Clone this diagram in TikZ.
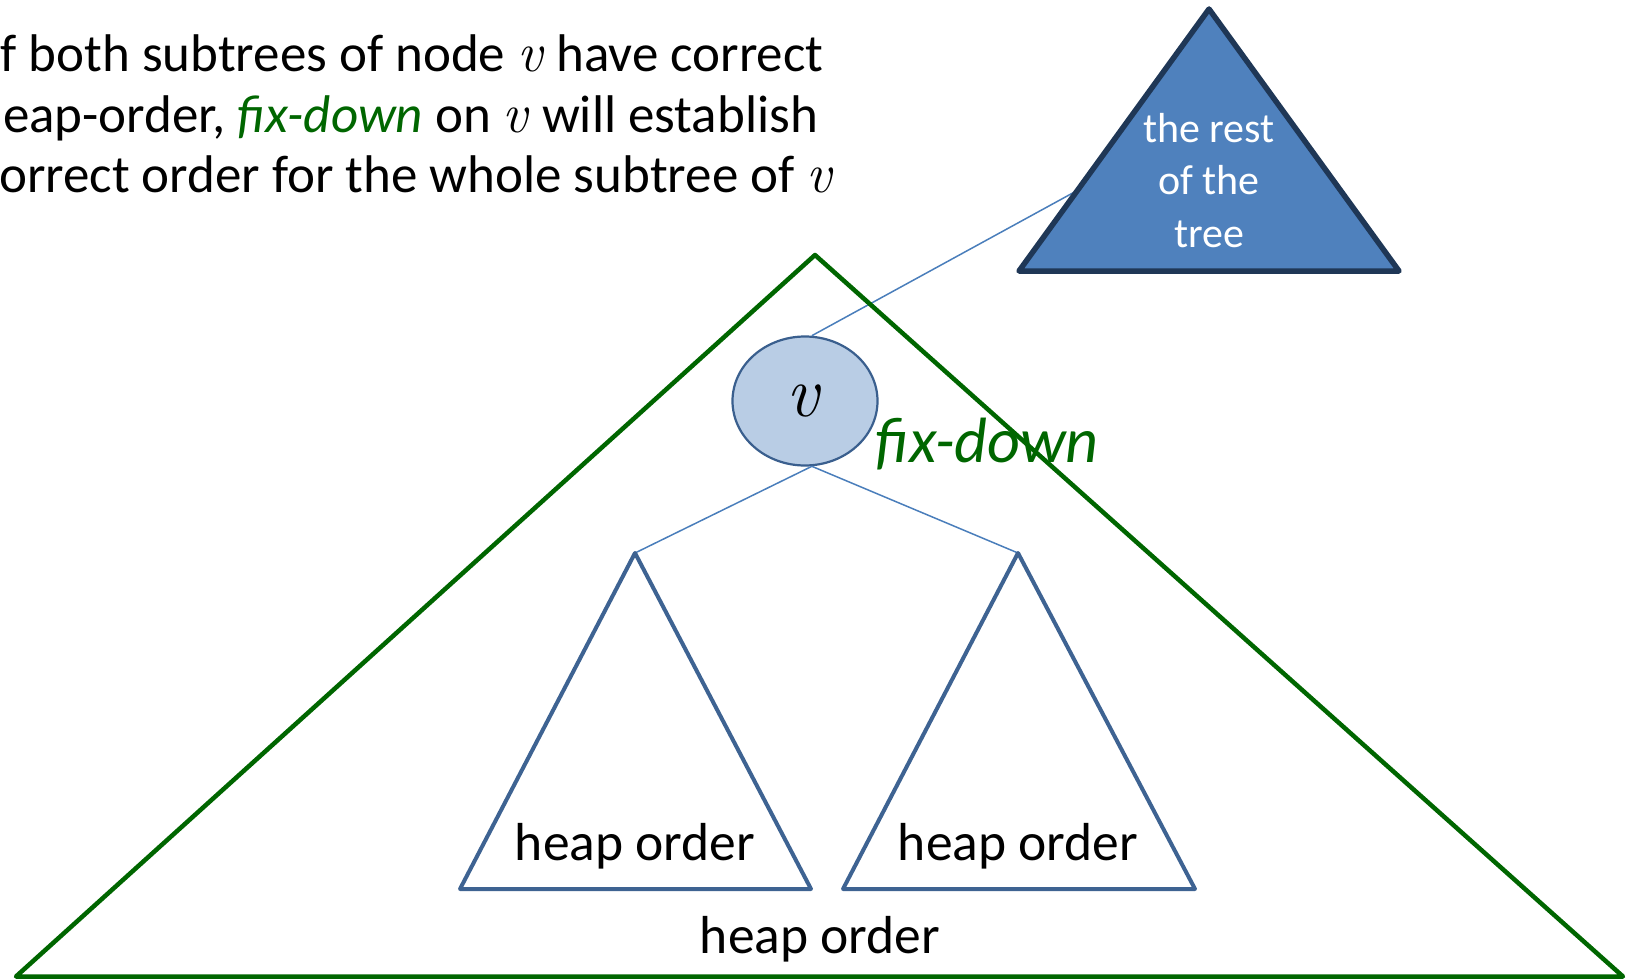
\documentclass[tikz,border=0pt]{standalone}
\usepackage{fontspec}
\setmainfont{Carlito}
\newfontfamily\vfont{Latin Modern Roman}
\usetikzlibrary{shapes.geometric}
\definecolor{hgreen}{RGB}{0,102,0}
\definecolor{restfill}{HTML}{4F81BD}
\definecolor{restdraw}{HTML}{1F3756}
\definecolor{subdraw}{HTML}{3E6392}
\definecolor{thinline}{HTML}{4A7EBB}
\definecolor{vfill}{HTML}{B9CDE5}
\definecolor{vdraw}{HTML}{3A5F8E}
\newcommand\myfs[2]{\fontsize{#1}{#2}\selectfont}
\newcommand\vv{{\vfont\itshape v\/}}
\newcommand\tv{{\myfs{56}{62}\vv}}
\begin{document}
\begin{tikzpicture}[x=1pt,y=-1pt,
  txt/.style={inner sep=0pt, anchor=base},
  txtl/.style={inner sep=0pt, anchor=base west, font=\myfs{53}{62}},
  bigtri/.style={draw=hgreen, line width=4.5pt, line join=round},
  subtri/.style={draw=subdraw, line width=4pt, line join=round},
  resttri/.style={draw=restdraw, fill=restfill, line width=5.5pt, line join=round},
  conn/.style={draw=thinline, line width=1.5pt},
  vnode/.style={ellipse, draw=vdraw, fill=vfill, line width=2.2pt, minimum width=145pt, minimum height=129pt, inner sep=0pt}
]
\useasboundingbox (0,0) rectangle (1634,979);
% coordinates
\coordinate (gA) at (815,255);
\coordinate (gL) at (16,976.5);
\coordinate (gR) at (1623,976.5);
\coordinate (rA) at (1209,9);
\coordinate (rL) at (1019,271);
\coordinate (rR) at (1399,271);
\coordinate (aA) at (635,553);
\coordinate (aL) at (460,889);
\coordinate (aR) at (811,889);
\coordinate (bA) at (1018,553);
\coordinate (bL) at (843,889);
\coordinate (bR) at (1195,889);
\coordinate (rEdge) at (1080,189);
% node v
\node[vnode] (v) at (805,401) {};
\node[txt, font=\myfs{72}{72}] (vlab) at (804,416) {\vv};
% connectors
\draw[conn] (v.84) -- (rEdge);
\draw[conn] (v.276) -- (aA);
\draw[conn] (v.276) -- (bA);
% triangles
\draw[bigtri] (gA) -- (gL) -- (gR) -- cycle;
\draw[subtri] (aA) -- (aL) -- (aR) -- cycle;
\draw[subtri] (bA) -- (bL) -- (bR) -- cycle;
\draw[resttri] (rA) -- (rL) -- (rR) -- cycle;
% texts
\node[txt, font=\myfs{42}{52}, text=white] (r1) at (1209,143) {the rest};
\node[txt, font=\myfs{42}{52}, text=white] (r2) at (1209,195) {of the};
\node[txt, font=\myfs{42}{52}, text=white] (r3) at (1209,247) {tree};
\node[txt, font=\myfs{53.5}{62}] (h1) at (635,860) {heap order};
\node[txt, font=\myfs{53.5}{62}] (h2) at (1018,860) {heap order};
\node[txt, font=\myfs{53.5}{62}] (h3) at (820,953) {heap order};
\node[inner sep=0pt, anchor=base west, font=\myfs{64}{70}\itshape, text=hgreen] (fd) at (875,462) {fix-down};
\node[txtl] (l1) at (-13,72) {If both subtrees of node \tv{} have correct};
\node[txtl] (l2) at (-25,133) {heap-order, \textcolor{hgreen}{\itshape fix-down} on \tv{} will establish};
\node[txtl] (l3) at (-23,193) {correct order for the whole subtree of \tv};
\end{tikzpicture}
\end{document}
